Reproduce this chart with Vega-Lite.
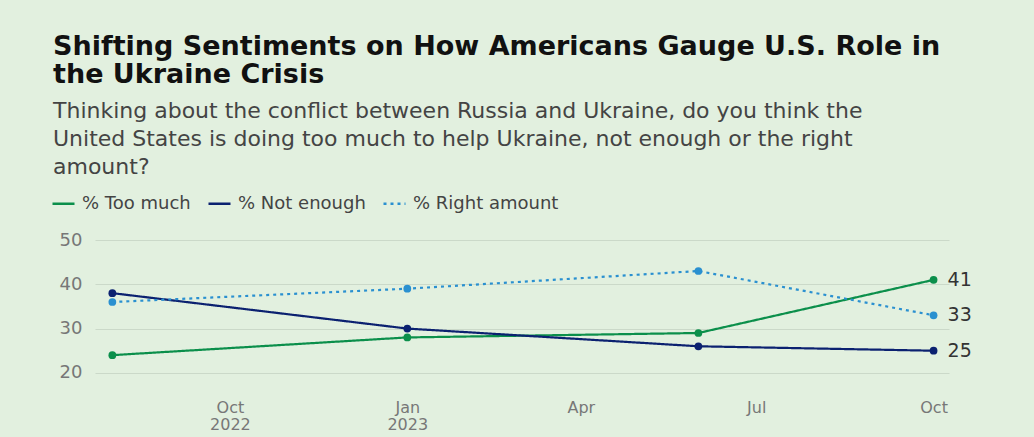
{
  "$schema": "https://vega.github.io/schema/vega-lite/v6.json",
  "width": 854,
  "height": 155,
  "padding": {"left": 51, "top": 33, "right": 63, "bottom": 6},
  "background": "#e2f0df",
  "title": {
    "text": ["Shifting Sentiments on How Americans Gauge U.S. Role in", "the Ukraine Crisis"],
    "subtitle": ["Thinking about the conflict between Russia and Ukraine, do you think the", "United States is doing too much to help Ukraine, not enough or the right", "amount?"],
    "anchor": "start",
    "frame": "group",
    "dx": -42,
    "font": "DejaVu Sans",
    "fontSize": 27,
    "fontWeight": "bold",
    "color": "#111111",
    "lineHeight": 28,
    "subtitleFont": "DejaVu Sans",
    "subtitleFontSize": 22,
    "subtitleColor": "#444444",
    "subtitleLineHeight": 28,
    "subtitlePadding": 12,
    "offset": 12
  },
  "config": {
    "view": {"stroke": null},
    "axis": {"labelFont": "DejaVu Sans", "labelColor": "#777777", "domain": false, "ticks": false, "title": null}
  },
  "data": {
    "values": [
      {"date": "2022/08/01", "series": "% Too much", "value": 24},
      {"date": "2023/01/01", "series": "% Too much", "value": 28},
      {"date": "2023/06/01", "series": "% Too much", "value": 29},
      {"date": "2023/10/01", "series": "% Too much", "value": 41},
      {"date": "2022/08/01", "series": "% Not enough", "value": 38},
      {"date": "2023/01/01", "series": "% Not enough", "value": 30},
      {"date": "2023/06/01", "series": "% Not enough", "value": 26},
      {"date": "2023/10/01", "series": "% Not enough", "value": 25},
      {"date": "2022/08/01", "series": "% Right amount", "value": 36},
      {"date": "2023/01/01", "series": "% Right amount", "value": 39},
      {"date": "2023/06/01", "series": "% Right amount", "value": 43},
      {"date": "2023/10/01", "series": "% Right amount", "value": 33}
    ]
  },
  "encoding": {
    "x": {
      "field": "date",
      "type": "temporal",
      "scale": {"domain": [{"year": 2022, "month": "jul", "date": 23}, {"year": 2023, "month": "oct", "date": 9}]},
      "axis": {
        "grid": false,
        "values": [
          {"year": 2022, "month": "oct", "date": 1},
          {"year": 2023, "month": "jan", "date": 1},
          {"year": 2023, "month": "apr", "date": 1},
          {"year": 2023, "month": "jul", "date": 1},
          {"year": 2023, "month": "oct", "date": 1}
        ],
        "labelExpr": "year(datum.value) == 2022 ? ['Oct', '2022'] : month(datum.value) == 0 ? ['Jan', '2023'] : timeFormat(datum.value, '%b')",
        "labelFontSize": 16,
        "labelLineHeight": 17,
        "labelPadding": 4,
        "labelOverlap": false,
        "labelFlush": false,
        "labelBound": false
      }
    },
    "y": {
      "field": "value",
      "type": "quantitative",
      "scale": {"domain": [15, 50], "nice": false, "zero": false},
      "axis": {
        "values": [20, 30, 40, 50],
        "labelFontSize": 18,
        "labelPadding": 13,
        "gridColor": "#cbd9c9",
        "gridWidth": 1
      }
    },
    "color": {
      "field": "series",
      "type": "nominal",
      "scale": {
        "domain": ["% Too much", "% Not enough", "% Right amount"],
        "range": ["#0b8f4b", "#0b2170", "#2a90d0"]
      },
      "legend": {
        "orient": "none",
        "legendX": -44,
        "legendY": -49,
        "direction": "horizontal",
        "title": null,
        "symbolType": "stroke",
        "symbolSize": 484,
        "symbolStrokeWidth": 2.5,
        "labelFont": "DejaVu Sans",
        "labelFontSize": 18,
        "labelColor": "#444444",
        "labelOffset": 6,
        "columnPadding": 12
      }
    }
  },
  "layer": [
    {
      "mark": {"type": "line", "strokeWidth": 2.2},
      "encoding": {
        "strokeDash": {
          "field": "series",
          "type": "nominal",
          "scale": {
            "domain": ["% Too much", "% Not enough", "% Right amount"],
            "range": [[1, 0], [1, 0], [3, 4]]
          },
          "legend": null
        }
      }
    },
    {
      "mark": {"type": "circle", "size": 60, "opacity": 1}
    },
    {
      "transform": [{"filter": "year(datum.date) == 2023 && month(datum.date) == 9"}],
      "mark": {"type": "text", "align": "left", "baseline": "middle", "dx": 14, "font": "DejaVu Sans", "fontSize": 19, "color": "#333333"},
      "encoding": {
        "text": {"field": "value", "type": "quantitative"},
        "color": {"value": "#333333"}
      }
    }
  ]
}
